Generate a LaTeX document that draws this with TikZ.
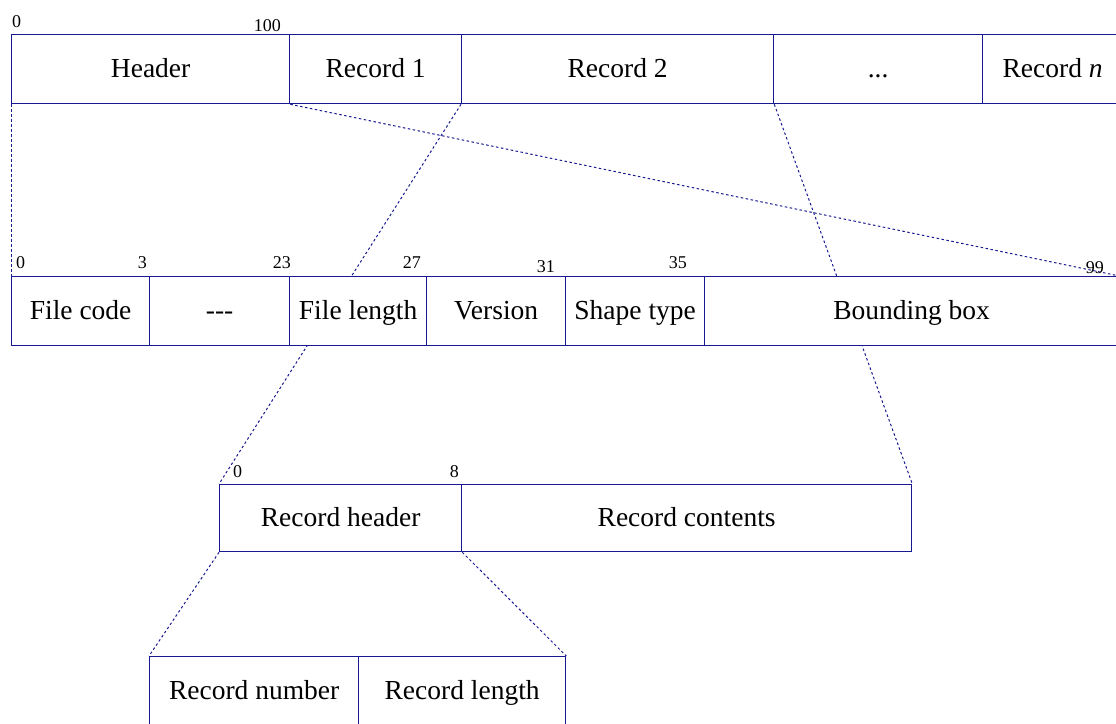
\documentclass[tikz,border=0pt]{standalone}
\usepackage{fontspec}
\setmainfont{Liberation Serif}
\usetikzlibrary{backgrounds}
\definecolor{frame}{RGB}{25,25,145}
\begin{document}
\begin{tikzpicture}[x=1pt,y=-1pt,
  cell/.style={draw=frame, line width=1.3pt, fill=white, anchor=north west,
    inner sep=0pt, minimum height=69pt, text height=20pt, text depth=3pt,
    font=\fontsize{27.5}{32}\selectfont},
  num/.style={inner sep=0pt, font=\fontsize{18}{21}\selectfont},
  zoomline/.style={draw=frame, line width=1pt, dash pattern=on 2.5pt off 2.5pt}]
\useasboundingbox (0,0) rectangle (1116,723);
\clip (0,0) rectangle (1116,723);

% file layout
\node[cell, minimum width=278pt] (hdr)  at (11,34)  {Header};
\node[cell, minimum width=172pt] (rec1) at (289,34) {Record 1};
\node[cell, minimum width=312pt] (rec2) at (461,34) {Record 2};
\node[cell, minimum width=209pt] (dots) at (773,34) {...};
\node[cell, minimum width=140pt] (recn) at (982,34) {Record \textit{n}};
\node[num, anchor=base west] (o0) at (12,27) {0};
\node[num, anchor=base east] (o100) at (281,31) {100};

% header fields
\node[cell, minimum width=138pt] (fcode) at (11,276)  {File code};
\node[cell, minimum width=140pt] (unused) at (149,276) {{-}{-}{-}};
\node[cell, minimum width=137pt] (flen) at (289,276)  {File length};
\node[cell, minimum width=139pt] (ver)  at (426,276)  {Version};
\node[cell, minimum width=139pt] (stype) at (565,276) {Shape type};
\node[cell, minimum width=414pt] (bbox) at (704,276)  {Bounding box};
\node[num, anchor=base west] (h0)  at (16,268)  {0};
\node[num, anchor=base east] (h3)  at (147,268) {3};
\node[num, anchor=base east] (h23) at (291,268) {23};
\node[num, anchor=base east] (h27) at (421,268) {27};
\node[num, anchor=base east] (h31) at (555,272) {31};
\node[num, anchor=base east] (h35) at (687,268) {35};
\node[num, anchor=base east] (h99) at (1104,273) {99};

% record layout
\node[cell, minimum width=242pt, minimum height=67pt] (rhdr)  at (219,484) {Record header};
\node[cell, minimum width=450pt, minimum height=67pt] (rcont) at (461,484) {Record contents};
\node[num, anchor=base west] (r0) at (233,477) {0};
\node[num, anchor=base east] (r8) at (459,477) {8};

% record header fields
\node[cell, minimum width=209pt] (rnum) at (149,656) {Record number};
\node[cell, minimum width=207pt] (rlen) at (358,656) {Record length};

% expansion guides
\begin{scope}[on background layer]
\draw[zoomline] (hdr.south west) -- (fcode.north west);
\draw[zoomline] (hdr.south east) -- (bbox.north east);
\draw[zoomline] (rec2.south west) -- (rhdr.north west);
\draw[zoomline] (rec2.south east) -- (rcont.north east);
\draw[zoomline] (rhdr.south west) -- (rnum.north west);
\draw[zoomline] (rhdr.south east) -- (rlen.north east);
\end{scope}
\end{tikzpicture}
\end{document}
